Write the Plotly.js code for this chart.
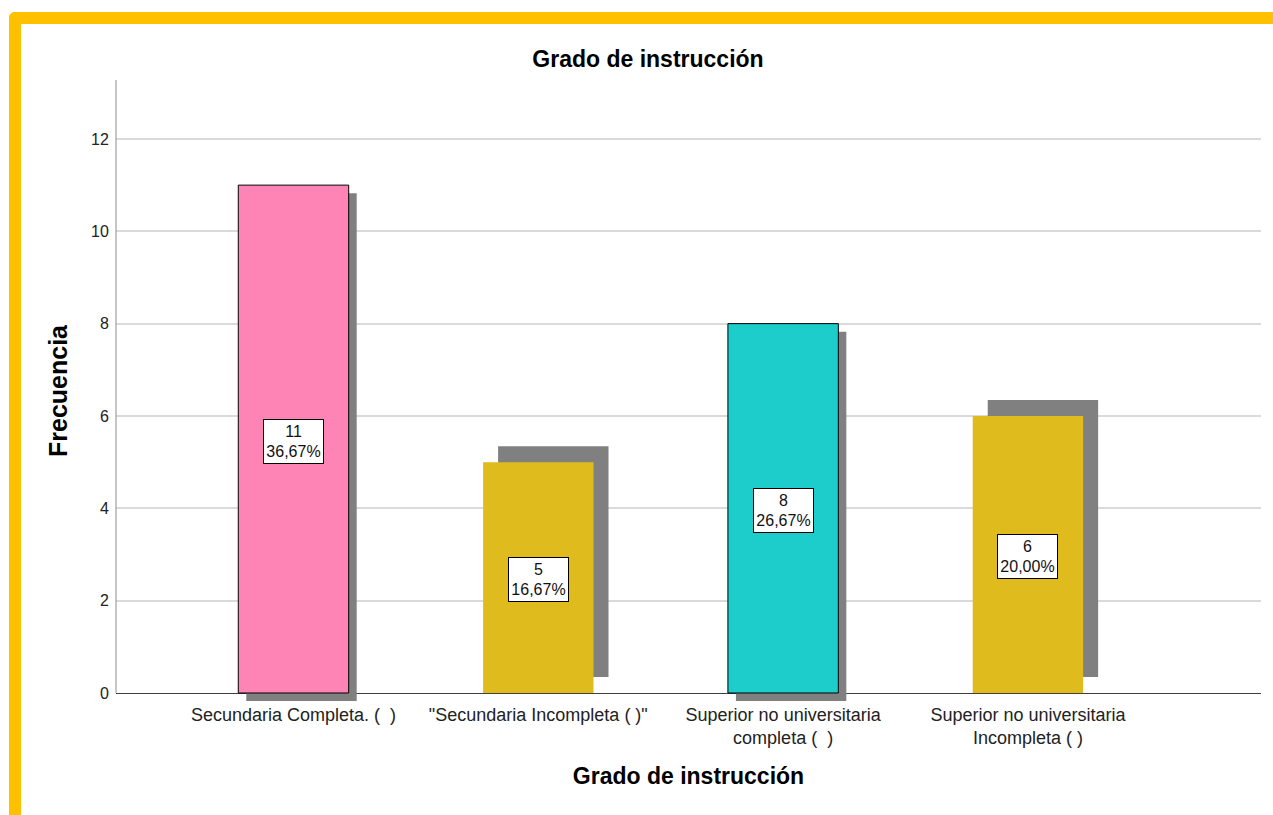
<!DOCTYPE html>
<html>
<head>
<meta charset="utf-8">
<script src="https://cdn.plot.ly/plotly-3.0.1.min.js"></script>
<style>
  html, body { margin: 0; padding: 0; background: #ffffff; width: 1273px; height: 815px; overflow: hidden; }
  #frame { position: absolute; left: 9px; top: 12px; width: 1300px; height: 900px;
           border-top: 12px solid #FFC000; border-left: 12px solid #FFC000;
           border-top-left-radius: 6px; box-sizing: border-box; }
  #chart { position: absolute; left: 0; top: 0; width: 1273px; height: 815px; }
</style>
</head>
<body>
<div id="frame"></div>
<div id="chart"></div>
<script>
// ---- data ----
const categories = [
  'Secundaria Completa. (\u00a0\u00a0)',
  '"Secundaria Incompleta ( )"',
  'Superior no universitaria<br>completa (\u00a0\u00a0)',
  'Superior no universitaria<br>Incompleta ( )'
];
const frequencies = [11, 5, 8, 6];
const yTickValues = [0, 2, 4, 6, 8, 10, 12];
const chartTitle = 'Grado de instrucción';
const xTitle = 'Grado de instrucción';
const yTitle = 'Frecuencia';

// ---- styles ----
const barColors = ['#FF84B6', '#E0BB1E', '#1CCDCB', '#E0BB1E'];
const barOutlineWidths = [1, 0, 1, 0];
const shadowShiftPx = [[8, 8], [15, -16], [8, 8], [15, -16]]; // [right, down]
const shadowColor = '#808080';

const W = 1273, H = 815;
const margin = { l: 116, r: 12, t: 80, b: 113 };
const xRange = [-0.725, 3.952];
const yRange = [-0.195, 13.277];
const barWidth = 0.451;

const plotW = W - margin.l - margin.r;
const plotH = H - margin.t - margin.b;
const xUnitPx = plotW / (xRange[1] - xRange[0]);
const yUnitPx = plotH / (yRange[1] - yRange[0]);

const total = frequencies.reduce((a, b) => a + b, 0);
const pctText = frequencies.map(v => (v / total * 100).toFixed(2).replace('.', ',') + '%');

const shadowTrace = {
  type: 'bar',
  x: categories,
  y: frequencies,
  base: shadowShiftPx.map(s => -s[1] / yUnitPx),
  offset: shadowShiftPx.map(s => -barWidth / 2 + s[0] / xUnitPx),
  width: barWidth,
  marker: { color: shadowColor, line: { width: 0 } },
  hoverinfo: 'skip',
  showlegend: false
};

const barTrace = {
  type: 'bar',
  x: categories,
  y: frequencies,
  offset: -barWidth / 2,
  width: barWidth,
  marker: { color: barColors, line: { color: '#000000', width: barOutlineWidths } },
  hoverinfo: 'skip',
  showlegend: false
};

const labelAnnotations = categories.map((c, i) => ({
  x: c, y: frequencies[i] / 2, xref: 'x', yref: 'y',
  text: frequencies[i] + '<br>' + pctText[i],
  showarrow: false,
  font: { family: 'Liberation Sans, Arial, sans-serif', size: 16, color: '#111111' },
  bgcolor: '#ffffff', bordercolor: '#000000', borderwidth: 1, borderpad: 1,
  width: 57, height: 41, yshift: -2
}));

const layout = {
  width: W, height: H,
  margin: margin,
  paper_bgcolor: 'rgba(0,0,0,0)',
  plot_bgcolor: 'rgba(0,0,0,0)',
  barmode: 'overlay',
  font: { family: 'Liberation Sans, Arial, sans-serif', color: '#222222' },
  title: {
    text: '<b>' + chartTitle + '</b>',
    font: { size: 23, color: '#000000' },
    xref: 'container', yref: 'container',
    x: 648 / W, y: 1 - 59 / H, xanchor: 'center', yanchor: 'middle'
  },
  xaxis: {
    type: 'category',
    range: xRange,
    showgrid: false,
    showline: false,
    zeroline: false,
    ticks: '', ticklen: 0,
    tickfont: { size: 18, color: '#222222' },
    title: { text: '<b>' + xTitle + '</b>', font: { size: 23, color: '#000000' }, standoff: 20 },
    automargin: false,
    fixedrange: true
  },
  yaxis: {
    range: yRange,
    tickvals: yTickValues,
    ticktext: yTickValues.map(String),
    showgrid: true, gridcolor: '#DADADA', gridwidth: 2,
    zeroline: true, zerolinecolor: '#404040', zerolinewidth: 1,
    showline: false,
    ticks: 'outside', ticklen: 3, tickcolor: 'rgba(0,0,0,0)',
    tickfont: { size: 16, color: '#222222' },
    title: { text: '<b>' + yTitle + '</b>', font: { size: 25, color: '#000000' }, standoff: 16 },
    automargin: false,
    fixedrange: true
  },
  shapes: [{
    type: 'line', xref: 'paper', yref: 'y',
    x0: 0, x1: 0, y0: 0, y1: yRange[1],
    line: { color: '#8C8C8C', width: 1 }
  }],
  annotations: labelAnnotations
};

Plotly.newPlot('chart', [shadowTrace, barTrace], layout, { displayModeBar: false, staticPlot: true });
</script>
</body>
</html>
